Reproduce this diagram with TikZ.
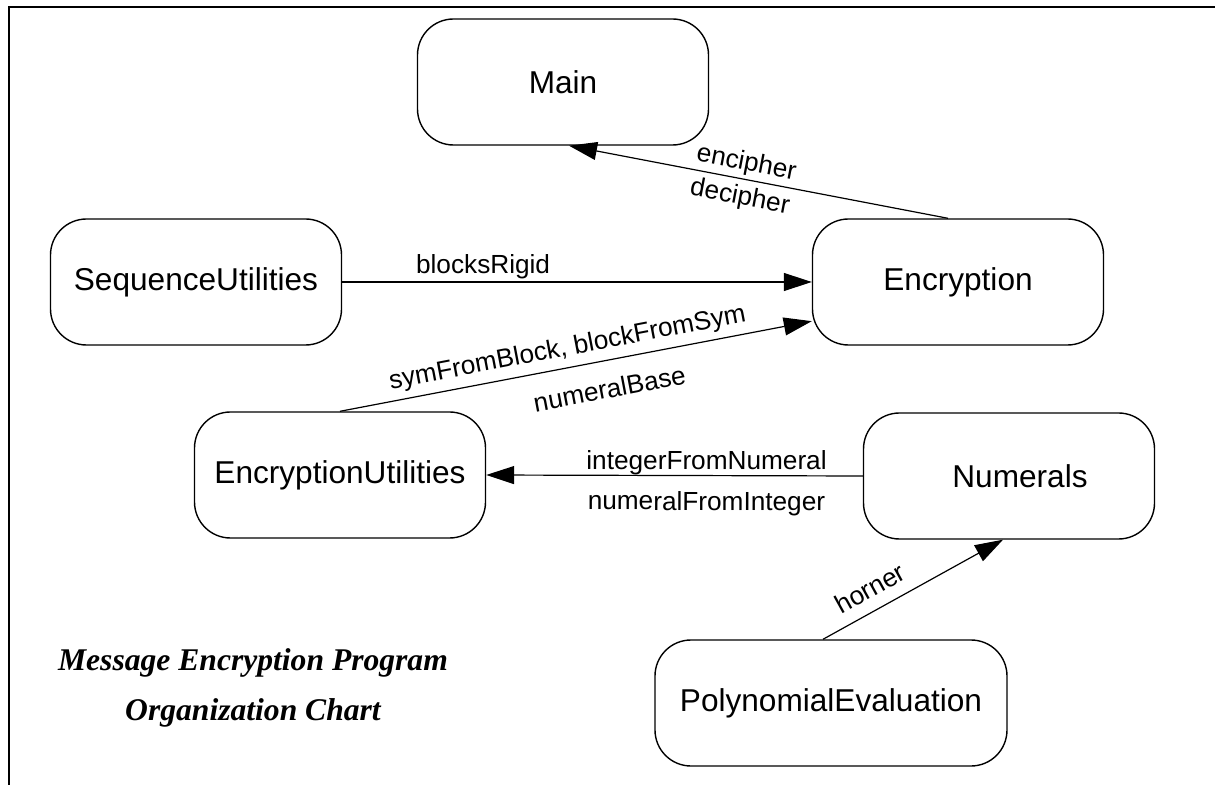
\documentclass[tikz,border=0pt]{standalone}
\usepackage{fontspec}
\setmainfont{Liberation Sans}
\newfontfamily\titlefont{Liberation Serif}
\usetikzlibrary{arrows.meta}

\tikzset{
	module/.style={draw, line width=0.7pt, rounded corners=18pt, minimum width=145.5pt, minimum height=63pt, inner sep=5pt, font=\fontsize{15.8}{19}\selectfont},
	call/.style={-{Triangle[length=14pt,width=9pt]}, line width=0.6pt},
	lbl/.style={sloped, inner sep=3pt, font=\fontsize{13.1}{15}\selectfont}
}

\begin{document}
\begin{tikzpicture}[x=0.5pt,y=-0.5pt]
			\useasboundingbox (0,0) rectangle (1215,785);
			\draw[line width=1pt] (1215,7.5) -- (9,7.5) -- (9,785);
			
			\draw (563,82)   node[module] (main) {Main}
			(196,282)  node[module] (sequ) {SequenceUtilities}
			(958,282)  node[module] (encr) {Encryption}
			(340,475)  node[module] (encu) {EncryptionUtilities}
			(1009,476) node[module] (nums) {\hspace*{11pt}Numerals}
			(831,703)  node[module, minimum width=176pt] (poly) {PolynomialEvaluation};
			
			\node[align=center, font=\titlefont\bfseries\itshape\fontsize{15.8}{25}\selectfont] (title) at (253,688) {Message Encryption Program\\Organization Chart};
			
			\draw[call] ([xshift=-5pt]encr.north) -- node[lbl, above=-1.5pt, pos=0.54] {encipher} node[lbl, below, pos=0.54] {decipher} ([xshift=3pt]main.south);
			\draw[call] (sequ.east) -- node[lbl, above=-2pt, pos=0.3] {blocksRigid} (encr.west);
			\draw[call] (encu.north) -- node[lbl, above, pos=0.49] {symFromBlock, blockFromSym} node[lbl, below=6pt, pos=0.56] {numeralBase} (encr.195);
			\draw[call] (nums.west) -- node[lbl, above=-3pt, pos=0.415] {integerFromNumeral} node[lbl, below=4.5pt, pos=0.415] {numeralFromInteger} (encu.east);
			\draw[call] ([xshift=-4pt]poly.north) -- node[lbl, above=3pt, pos=0.32] {horner} ([xshift=-3pt]nums.south);
		\end{tikzpicture}
\end{document}
